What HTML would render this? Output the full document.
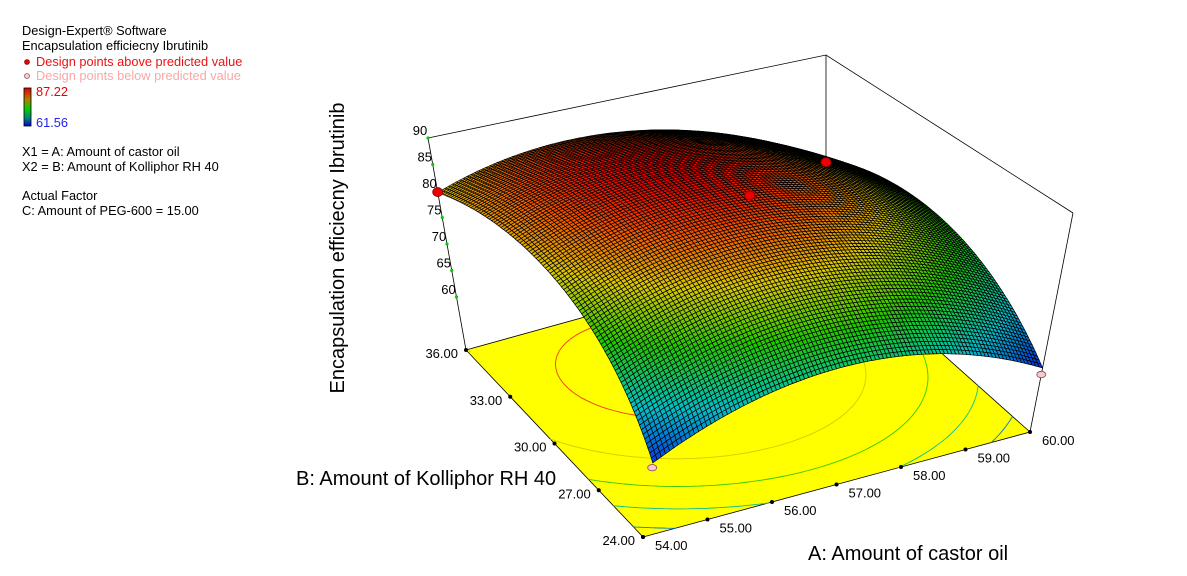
<!DOCTYPE html>
<html><head><meta charset="utf-8"><style>
body{margin:0;background:#fff;width:1187px;height:576px;overflow:hidden;font-family:"Liberation Sans",sans-serif}
svg{position:absolute;left:0;top:0}
</style></head><body>
<svg id="chart" width="1187" height="576" xmlns="http://www.w3.org/2000/svg">
 <g font-size="12.8" font-family="Liberation Sans, sans-serif">
  <text x="22" y="35" fill="#000">Design-Expert® Software</text>
  <text x="22" y="50" fill="#000">Encapsulation efficiecny Ibrutinib</text>
  <circle cx="27" cy="62" r="2.5" fill="#e00" stroke="#600" stroke-width="0.6"/>
  <text x="36" y="66" fill="#ee1111">Design points above predicted value</text>
  <circle cx="27" cy="76" r="2.5" fill="#fcc" stroke="#633" stroke-width="0.6"/>
  <text x="36" y="80" fill="#f8a8a8">Design points below predicted value</text>
  <defs><linearGradient id="cb" x1="0" y1="0" x2="0" y2="1">
   <stop offset="0" stop-color="#e00000"/><stop offset="0.3" stop-color="#b08000"/><stop offset="0.55" stop-color="#00d000"/><stop offset="0.8" stop-color="#008080"/><stop offset="1" stop-color="#0000e0"/></linearGradient></defs>
  <rect x="24" y="88" width="7" height="38" fill="url(#cb)" stroke="#000" stroke-width="0.8"/>
  <text x="36" y="96" fill="#ee0000">87.22</text>
  <text x="36" y="127" fill="#2222ee">61.56</text>
  <text x="22" y="156" fill="#000">X1 = A: Amount of castor oil</text>
  <text x="22" y="171" fill="#000">X2 = B: Amount of Kolliphor RH 40</text>
  <text x="22" y="200" fill="#000">Actual Factor</text>
  <text x="22" y="215" fill="#000">C: Amount of PEG-600 = 15.00</text>
 </g>
 <g id="plot"></g>
 <text transform="translate(344,248) rotate(-90)" text-anchor="middle" font-size="20" fill="#000">Encapsulation efficiecny Ibrutinib</text>
 <text x="296" y="485" font-size="20" fill="#000">B: Amount of Kolliphor RH 40</text>
 <text x="808" y="560" font-size="20" fill="#000">A: Amount of castor oil</text>
</svg>
<script>
const aTicks=[54,55,56,57,58,59,60];
const bTicks=[24,27,30,33,36];
const zTicks=[60,65,70,75,80,85,90];
const coef=[85.7,-2.9,6.1,-2.6,-9,-8.6]; // b0,a,b,ab,aa,bb (coded)
const designA=[54,54,60,60,57];
const designB=[36,24,24,36,30];
const designZ=[79.8,61.5,60.5,68,86.3];
const designAbove=[1,0,0,1,1];
const NS="http://www.w3.org/2000/svg";
const g=document.getElementById('plot');
const F={c00:[643,537],c10:[1030,432],c01:[466,350],c11:[826,250]};
const T={c00:[675,296],c10:[1073,213],c01:[428,138],c11:[826,55]};
function bil(C,u,v){return [0,1].map(i=>C.c00[i]*(1-u)*(1-v)+C.c10[i]*u*(1-v)+C.c01[i]*(1-u)*v+C.c11[i]*u*v);}
function P(A,B,z){const u=(A-54)/6,v=(B-24)/12,t=(z-50)/40;const f=bil(F,u,v),tp=bil(T,u,v);return [f[0]+t*(tp[0]-f[0]),f[1]+t*(tp[1]-f[1])];}
function model(A,B){const a=(A-57)/3,b=(B-30)/6;return coef[0]+coef[1]*a+coef[2]*b+coef[3]*a*b+coef[4]*a*a+coef[5]*b*b;}
function col(z){const lo=61.56,hi=87.22;let t=Math.max(0,Math.min(1,(z-lo)/(hi-lo)));
 const st=[[0,[0,40,230]],[0.25,[0,190,200]],[0.5,[30,200,0]],[0.72,[220,200,0]],[0.88,[240,90,0]],[1,[230,0,0]]];
 for(let i=1;i<st.length;i++){if(t<=st[i][0]){const k=(t-st[i-1][0])/(st[i][0]-st[i-1][0]);const c=st[i-1][1].map((x,j)=>Math.round(x+(st[i][1][j]-x)*k));return `rgb(${c})`;}}return 'rgb(230,0,0)';}
function el(tag,attrs,parent){const e=document.createElementNS(NS,tag);for(const k in attrs)e.setAttribute(k,attrs[k]);(parent||g).appendChild(e);return e;}
function pts(a){return a.map(p=>p[0].toFixed(1)+','+p[1].toFixed(1)).join(' ');}
const backV=el('line',{x1:P(60,36,50)[0],y1:P(60,36,50)[1],x2:P(60,36,90)[0],y2:P(60,36,90)[1],stroke:'#000','stroke-width':0.8});


const topE=el('polyline',{points:pts([P(54,36,90),P(60,36,90),P(60,24,90)]),fill:'none',stroke:'#000','stroke-width':0.8});


const lv=el('line',{x1:P(54,36,50)[0],y1:P(54,36,50)[1],x2:P(54,36,90)[0],y2:P(54,36,90)[1],stroke:'#000','stroke-width':0.8});


const rv=el('line',{x1:P(60,24,50)[0],y1:P(60,24,50)[1],x2:P(60,24,90)[0],y2:P(60,24,90)[1],stroke:'#000','stroke-width':0.8});


const floor=el('polygon',{points:pts([P(54,24,50),P(60,24,50),P(60,36,50),P(54,36,50)]),fill:'#ffff00',stroke:'#000','stroke-width':0.8});


const levels=[65,70,75,80,85];
const N=60;
levels.forEach(L=>{let d='';for(let i=0;i<N;i++)for(let j=0;j<N;j++){const A0=54+6*i/N,A1=54+6*(i+1)/N,B0=24+12*j/N,B1=24+12*(j+1)/N;
 const c=[[A0,B0],[A1,B0],[A1,B1],[A0,B1]];const zs=c.map(p=>model(p[0],p[1]));const cr=[];
 for(let k=0;k<4;k++){const z1=zs[k],z2=zs[(k+1)%4];if((z1-L)*(z2-L)<0){const t=(L-z1)/(z2-z1);const p1=c[k],p2=c[(k+1)%4];cr.push(P(p1[0]+(p2[0]-p1[0])*t,p1[1]+(p2[1]-p1[1])*t,50));}}
 if(cr.length>=2)d+=`M${cr[0][0].toFixed(1)},${cr[0][1].toFixed(1)}L${cr[1][0].toFixed(1)},${cr[1][1].toFixed(1)}`;}
 const c=el('path',{d:d,fill:'none',stroke:col(L),'stroke-width':0.9});
 
 });
const M=100;const quads=[];
for(let i=0;i<M;i++)for(let j=0;j<M;j++){const A0=54+6*i/M,A1=54+6*(i+1)/M,B0=24+12*j/M,B1=24+12*(j+1)/M;quads.push([i+j,A0,A1,B0,B1]);}
quads.sort((p,q)=>q[0]-p[0]);
const sg=el('g',{});


quads.forEach(q=>{const [_,A0,A1,B0,B1]=q;const z=model((A0+A1)/2,(B0+B1)/2);
 el('polygon',{points:pts([P(A0,B0,model(A0,B0)),P(A1,B0,model(A1,B0)),P(A1,B1,model(A1,B1)),P(A0,B1,model(A0,B1))]),fill:col(z),stroke:'#000','stroke-width':0.7},sg);});
zTicks.forEach(z=>{const p=P(54,36,z);
 const d=el('circle',{cx:p[0],cy:p[1],r:1.6,fill:'#0c0'});
 
 
 const t=el('text',{x:p[0]-8,y:p[1]-3,'text-anchor':'middle','font-size':13,fill:'#000'});t.textContent=z;
 
 });
bTicks.forEach(b=>{const p=P(54,b,50);
 const d=el('circle',{cx:p[0],cy:p[1],r:2,fill:'#000'});
 
 
 const t=el('text',{x:p[0]-8,y:p[1]+8,'text-anchor':'end','font-size':13,fill:'#000'});t.textContent=b.toFixed(2);
 
 });
aTicks.forEach(a=>{const p=P(a,24,50);
 const d=el('circle',{cx:p[0],cy:p[1],r:2,fill:'#000'});
 
 
 const t=el('text',{x:p[0]+12,y:p[1]+13,'text-anchor':'start','font-size':13,fill:'#000'});t.textContent=a.toFixed(2);
 
 });
designA.forEach((a,i)=>{const p=P(a,designB[i],designZ[i]);
 const c=el('ellipse',{cx:p[0],cy:p[1],rx:designAbove[i]?5:4.5,ry:designAbove[i]?4.5:3.2,fill:designAbove[i]?'#ee0000':'#f8c8d0',stroke:designAbove[i]?'#800':'#844','stroke-width':0.8});
 
 });
</script>
</body></html>
